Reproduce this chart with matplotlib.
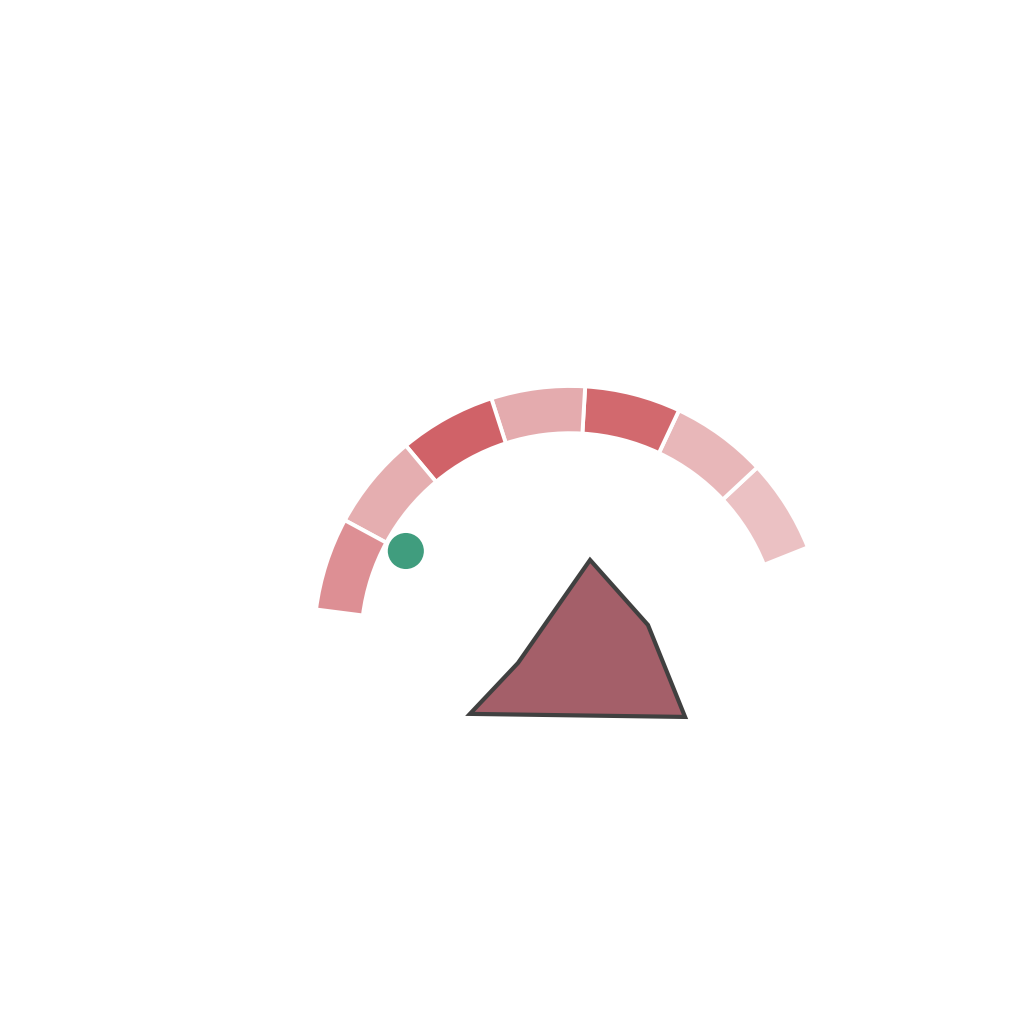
import numpy as np
import matplotlib.pyplot as plt
from matplotlib.patches import Wedge, Polygon, Circle

# gauge bands (degrees, counter-clockwise from start)
band_edges = [21.7, 43.0, 64.8, 86.6, 107.9, 129.9, 151.6, 172.7]
band_colors = ["#ebc1c3", "#e8b7b9", "#d2696e", "#e4abae", "#d06268", "#e5aeb0", "#dd8f94"]
outer_r = 1.008
inner_r = 0.822

# marker value
marker_angle = 151.0
marker_r = 0.739

# polygon shape (gauge units)
poly_x = [-0.394, -0.205, 0.079, 0.307, 0.453]
poly_y = [-0.283, -0.083, 0.323, 0.067, -0.295]

fig = plt.figure(figsize=(10.24, 10.24), dpi=100)
ax = fig.add_axes([0, 0, 1, 1])
scale = 254.0
ax.set_xlim(-570 / scale, (1024 - 570) / scale)
ax.set_ylim(-(1024 - 642) / scale, 642 / scale)
ax.set_aspect("equal")
ax.axis("off")

for i, c in enumerate(band_colors):
    w = Wedge((0, 0), outer_r, band_edges[i], band_edges[i + 1],
              width=outer_r - inner_r, facecolor=c, edgecolor="white", linewidth=2.8)
    ax.add_patch(w)

mx = marker_r * np.cos(np.radians(marker_angle))
my = marker_r * np.sin(np.radians(marker_angle))
ax.add_patch(Circle((mx, my), 0.071, facecolor="#409d7e", edgecolor="none"))

ax.add_patch(Polygon(np.column_stack([poly_x, poly_y]), closed=True,
                     facecolor="#a45f69", edgecolor="#404040", linewidth=3.0,
                     joinstyle="miter"))

fig.savefig("out.png", dpi=100, facecolor="white")
